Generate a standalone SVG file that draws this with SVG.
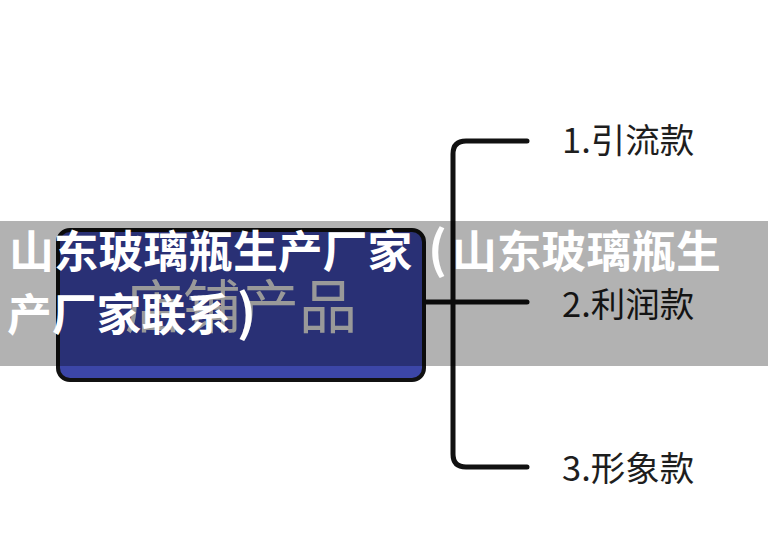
<svg xmlns="http://www.w3.org/2000/svg" width="768" height="556" viewBox="0 0 768 556">
<style>
.conn{fill:none;stroke:#111;stroke-width:5;stroke-linecap:round;stroke-linejoin:round}
.lbl{font-family:"Noto Sans CJK SC","Noto Sans",sans-serif;font-size:34.5px;fill:#1e1e1e}
.ov{font-family:"Noto Sans CJK SC",sans-serif;font-size:44.8px;font-weight:bold;fill:#ffffff}
</style>
<rect width="768" height="556" fill="#ffffff"/>
<g id="connectors">
<path class="conn" d="M527,141 H466 Q453,141 453,154 V454 Q453,467 466,467 H527"/>
<path class="conn" d="M425,302 H527"/>
</g>
<g id="node-root">
<rect x="58" y="230" width="366" height="150" rx="12" fill="#3C46A8" stroke="#111" stroke-width="4"/>
<text x="241" y="303" font-family="'Noto Sans CJK SC',sans-serif" font-size="58" fill="#dcdcdc" text-anchor="middle" dominant-baseline="central">店铺产品</text>
</g>
<g id="node-1"><text class="lbl" x="562" y="153">1.引流款</text></g>
<g id="node-2"><text class="lbl" x="562" y="317">2.利润款</text></g>
<g id="node-3"><text class="lbl" x="562" y="481">3.形象款</text></g>
<g id="banner">
<rect x="0" y="221" width="768" height="145" fill="#000" fill-opacity="0.3"/>
<text class="ov" x="9" y="268">山东玻璃瓶生产厂家<tspan x="428" font-size="50">(</tspan><tspan x="452">山东玻璃瓶生</tspan></text>
<text class="ov" x="7" y="331">产厂家联系<tspan dx="6" font-size="50">)</tspan></text>
</g>
</svg>
